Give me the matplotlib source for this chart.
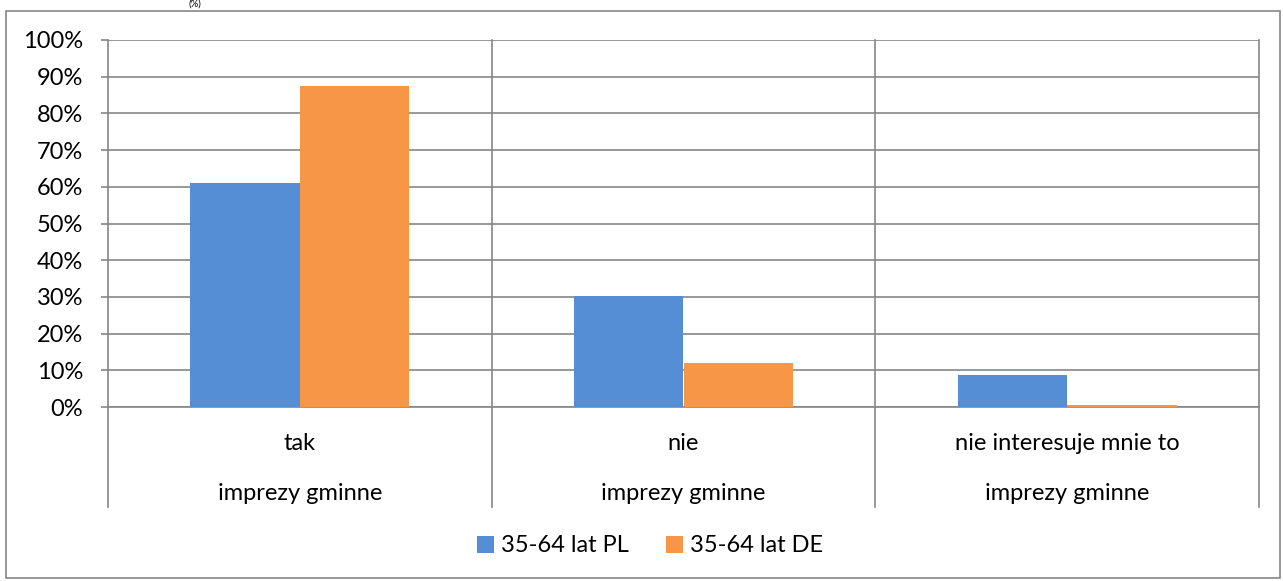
import matplotlib
matplotlib.use("Agg")
from matplotlib import pyplot as plt
from matplotlib.patches import Rectangle

categories = ["tak", "nie", "nie interesuje mnie to"]
group_label = "imprezy gminne"
series_names = ["35-64 lat PL", "35-64 lat DE"]
values_pl = [61.0, 30.2, 8.7]
values_de = [87.5, 12.0, 0.5]
colors = ["#558ED5", "#F79646"]
yticks = [0, 10, 20, 30, 40, 50, 60, 70, 80, 90, 100]

W, H = 1283, 581
plt.rcParams["font.family"] = ["Lato", "DejaVu Sans"]
plt.rcParams["font.size"] = 17
grid_c = "#868686"

fig = plt.figure(figsize=(W / 100, H / 100), dpi=100)

# ramka wokol wykresu
fig.patches.append(Rectangle((6 / W, 1 - 578 / H), 1274 / W, 567 / H,
                             transform=fig.transFigure, fill=False,
                             edgecolor=grid_c, lw=1.2))
# tytul u gory (w oryginale prawie caly obciety)
fig.text(195 / W, 1, "(%)", ha="center", va="top", fontsize=7)

ax = fig.add_axes([108 / W, 1 - 407 / H, (1259 - 108) / W, (407 - 40) / H])

x = range(len(categories))
bw = 0.285
ax.bar([i - bw / 2 for i in x], values_pl, width=bw, color=colors[0], label=series_names[0], zorder=3)
ax.bar([i + bw / 2 for i in x], values_de, width=bw, color=colors[1], label=series_names[1], zorder=3)

ax.set_xlim(-0.5, len(categories) - 0.5)
ax.set_ylim(0, 100)
ax.set_yticks(yticks)
ax.set_yticklabels([f"{t}%" for t in yticks])
ax.yaxis.grid(True, color=grid_c, lw=1.2, zorder=0)
ax.tick_params(axis="y", length=5, width=1.2, color=grid_c, pad=13)
ax.set_xticks([])

for s in ["top", "right", "left"]:
    ax.spines[s].set_visible(False)
ax.spines["bottom"].set_color(grid_c)
ax.spines["bottom"].set_linewidth(1.2)

# pionowe linie oddzielajace kategorie
drop = 100 / 367
for b in [-0.5, 0.5, 1.5, 2.5]:
    ax.axvline(b, ymin=-drop, ymax=1, color=grid_c, lw=1.2, clip_on=False, zorder=1)

for i, c in enumerate(categories):
    ax.text(i, -36 / 367, c, transform=ax.get_xaxis_transform(), ha="center", va="center")
    ax.text(i, -86 / 367, group_label, transform=ax.get_xaxis_transform(), ha="center", va="center")

fig.legend(loc="center", bbox_to_anchor=(650 / W, 1 - 546 / H), ncol=2, frameon=False,
           handlelength=0.7, handleheight=0.7, handletextpad=0.3, columnspacing=1.6)

fig.savefig("out.png", dpi=100)
